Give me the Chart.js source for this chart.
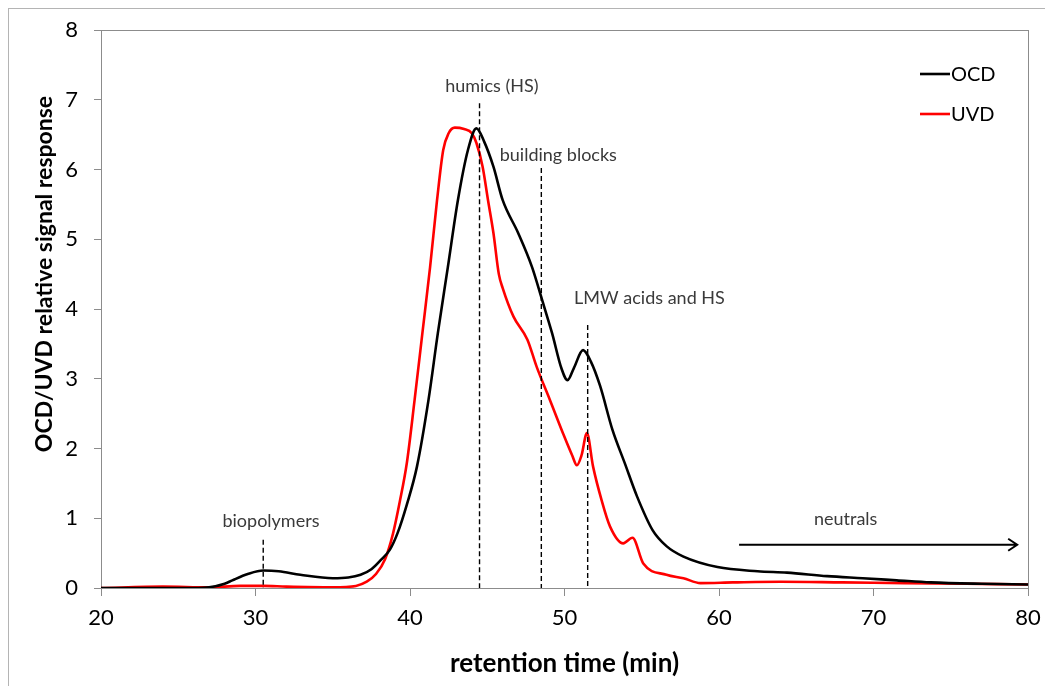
<!DOCTYPE html>
<html>
<head>
<meta charset="utf-8">
<script src="https://cdn.jsdelivr.net/npm/chart.js@4/dist/chart.umd.min.js"></script>
<style>
  html, body { margin: 0; padding: 0; background: #fff; }
  #wrap { width: 1045px; height: 686px; position: relative; }
</style>
</head>
<body>
<div id="wrap"><canvas id="sec"></canvas></div>
<script>
// retention time (min) and signal for each detector
const ocdTime = [20, 22, 24, 26, 27, 28, 28.5, 29.5, 30.5, 31.5, 32.9, 35, 36, 36.8, 37.5, 38.1, 38.7, 39.2, 39.8, 40.45,
  41.2, 41.8, 42.45, 43.1, 43.75, 44.3, 44.8, 45.4, 46, 47, 47.9, 48.55, 49.2, 49.8, 50.2, 50.6, 51.2, 51.7, 52.3, 53.1,
  53.9, 54.7, 55.7, 56.6, 57.7, 59.9, 62.5, 64.4, 67, 69.3, 71.5, 73.7, 77, 80];
const ocdSignal = [0, 0, 0, 0, 0.01, 0.06, 0.11, 0.2, 0.25, 0.24, 0.19, 0.14, 0.15, 0.19, 0.27, 0.4, 0.55, 0.79, 1.2, 1.74,
  2.7, 3.65, 4.6, 5.56, 6.28, 6.59, 6.4, 6.04, 5.56, 5.09, 4.6, 4.13, 3.65, 3.15, 2.98, 3.15, 3.41, 3.25, 2.9, 2.27,
  1.79, 1.31, 0.83, 0.6, 0.45, 0.3, 0.24, 0.22, 0.17, 0.14, 0.11, 0.08, 0.06, 0.05];

const uvdTime = [20, 24, 27, 29, 30.5, 32, 35, 36.5, 37.2, 37.8, 38.4, 38.9, 39.35, 39.8, 40.3, 40.8, 41.3, 41.75, 42.15, 42.5,
  42.9, 43.5, 44, 44.3, 44.7, 45.05, 45.4, 45.75, 46, 46.7, 47.6, 48.2, 49.05, 49.9, 50.5, 50.8, 51.1, 51.45, 51.85, 52.4,
  52.95, 53.8, 54.4, 55.1, 56.6, 57.7, 58.8, 60.9, 64, 68, 72, 76, 80];
const uvdSignal = [0, 0.02, 0.01, 0.03, 0.03, 0.02, 0.01, 0.03, 0.09, 0.2, 0.42, 0.78, 1.25, 1.8, 2.7, 3.65, 4.6, 5.56, 6.28, 6.52,
  6.6, 6.58, 6.52, 6.38, 6.04, 5.56, 5.09, 4.5, 4.3, 3.89, 3.56, 3.17, 2.7, 2.22, 1.9, 1.76, 1.9, 2.22, 1.74, 1.26,
  0.88, 0.64, 0.72, 0.35, 0.19, 0.14, 0.07, 0.08, 0.09, 0.08, 0.07, 0.06, 0.05];

// fraction markers: time, top of dashed line, label, label position
const fractionNames = ["biopolymers", "humics (HS)", "building blocks", "LMW acids and HS"];
const fractionTime = [30.5, 44.5, 48.5, 51.5];
const fractionTop = [0.69, 6.95, 6.02, 3.77];
const fractionLabelX = [31.0, 45.3, 49.6, 55.5];
const fractionLabelY = [0.96, 7.2, 6.2, 4.16];

const neutralsLabel = "neutrals";
const neutralsFrom = 61.3;
const neutralsTo = 79.3;
const neutralsLevel = 0.62;

const xTicks = [20, 30, 40, 50, 60, 70, 80];
const yTicks = [0, 1, 2, 3, 4, 5, 6, 7, 8];

const yTitle = "OCD/UVD relative signal response";
const xTitle = "retention time (min)";

const font = "Lato, 'Open Sans', sans-serif";

const toPoints = (xs, ys) => xs.map((x, i) => ({x: x, y: ys[i]}));

const datasets = [
  {
    label: "OCD",
    data: toPoints(ocdTime, ocdSignal),
    borderColor: "#000000",
    borderWidth: 2.6,
    pointRadius: 0,
    cubicInterpolationMode: "monotone"
  },
  {
    label: "UVD",
    data: toPoints(uvdTime, uvdSignal),
    borderColor: "#ff0000",
    borderWidth: 2.6,
    pointRadius: 0,
    cubicInterpolationMode: "monotone"
  }
];

const frame = {
  id: "frame",
  beforeDraw(chart) {
    const ctx = chart.ctx;
    ctx.save();
    ctx.strokeStyle = "#b4b4b4";
    ctx.lineWidth = 1;
    ctx.strokeRect(8.5, 8.5, 1200, 1000);
    ctx.restore();
  },
  beforeDatasetsDraw(chart) {
    const a = chart.chartArea;
    const ctx = chart.ctx;
    ctx.save();
    ctx.strokeStyle = "#8c8c8c";
    ctx.lineWidth = 1;
    ctx.strokeRect(Math.round(a.left) + 0.5, Math.round(a.top) + 0.5, Math.round(a.right - a.left), Math.round(a.bottom - a.top));
    ctx.restore();
  }
};

const notes = {
  id: "notes",
  afterDatasetsDraw(chart) {
    const ctx = chart.ctx;
    const xs = chart.scales.x;
    const ys = chart.scales.y;
    ctx.save();
    // dashed fraction lines
    ctx.strokeStyle = "#000";
    ctx.lineWidth = 1.4;
    ctx.setLineDash([5, 3]);
    fractionTime.forEach((t, i) => {
      const px = xs.getPixelForValue(t);
      ctx.beginPath();
      ctx.moveTo(px, ys.getPixelForValue(fractionTop[i]));
      ctx.lineTo(px, ys.getPixelForValue(0));
      ctx.stroke();
    });
    ctx.setLineDash([]);

    ctx.fillStyle = "#3a3a3a";
    ctx.font = "18px " + font;
    ctx.textAlign = "center";
    ctx.textBaseline = "middle";
    fractionNames.forEach((name, i) => {
      ctx.fillText(name, xs.getPixelForValue(fractionLabelX[i]), ys.getPixelForValue(fractionLabelY[i]));
    });
    ctx.fillText(neutralsLabel, xs.getPixelForValue(68.2), ys.getPixelForValue(0.99));

    // neutrals arrow
    const ay = ys.getPixelForValue(neutralsLevel);
    const ax0 = xs.getPixelForValue(neutralsFrom);
    const ax1 = xs.getPixelForValue(neutralsTo);
    ctx.strokeStyle = "#000";
    ctx.lineWidth = 2;
    ctx.beginPath();
    ctx.moveTo(ax0, ay);
    ctx.lineTo(ax1, ay);
    ctx.moveTo(ax1 - 9, ay - 6);
    ctx.lineTo(ax1, ay);
    ctx.lineTo(ax1 - 9, ay + 6);
    ctx.stroke();

    // legend
    ctx.font = "20px " + font;
    ctx.textAlign = "left";
    ctx.fillStyle = "#000";
    datasets.forEach((ds, i) => {
      const ly = 74 + i * 40;
      ctx.strokeStyle = ds.borderColor;
      ctx.lineWidth = 2.6;
      ctx.beginPath();
      ctx.moveTo(920, ly);
      ctx.lineTo(950, ly);
      ctx.stroke();
      ctx.fillText(ds.label, 951, ly + 1);
    });

    // y axis title (sits a bit above the axis middle in the original)
    ctx.translate(45, 274);
    ctx.rotate(-Math.PI / 2);
    ctx.font = "bold 23px " + font;
    ctx.textAlign = "center";
    ctx.fillText(yTitle, 0, 0);
    ctx.restore();
  }
};

const config = {
  type: "line",
  data: {datasets},
  options: {
    responsive: true,
    maintainAspectRatio: false,
    animation: false,
    layout: {padding: {left: 30, right: 17, top: 30, bottom: 7}},
    plugins: {legend: {display: false}, tooltip: {enabled: false}},
    scales: {
      x: {
        type: "linear",
        min: 20,
        max: 80,
        afterBuildTicks: (s) => { s.ticks = xTicks.map(v => ({value: v})); },
        afterFit: (s) => { s.height = 91; s.paddingLeft = 0; s.paddingRight = 0; },
        grid: {drawOnChartArea: false, tickLength: 8, color: "#8c8c8c"},
        border: {color: "#8c8c8c"},
        ticks: {font: {family: font, size: 22}, color: "#000", padding: 9, maxRotation: 0},
        title: {display: true, text: xTitle, font: {family: font, size: 26, weight: "bold"}, color: "#000", padding: {top: 4, bottom: 0}}
      },
      y: {
        min: 0,
        max: 8,
        afterBuildTicks: (s) => { s.ticks = yTicks.map(v => ({value: v})); },
        afterFit: (s) => { s.width = 71; s.paddingTop = 0; s.paddingBottom = 0; },
        grid: {drawOnChartArea: false, tickLength: 7, color: "#8c8c8c"},
        border: {color: "#8c8c8c"},
        ticks: {font: {family: font, size: 22}, color: "#000", padding: 16}
      }
    }
  },
  plugins: [frame, notes]
};

const canvas = document.getElementById("sec");
const secChart = new Chart(canvas, config);
</script>
</body>
</html>
